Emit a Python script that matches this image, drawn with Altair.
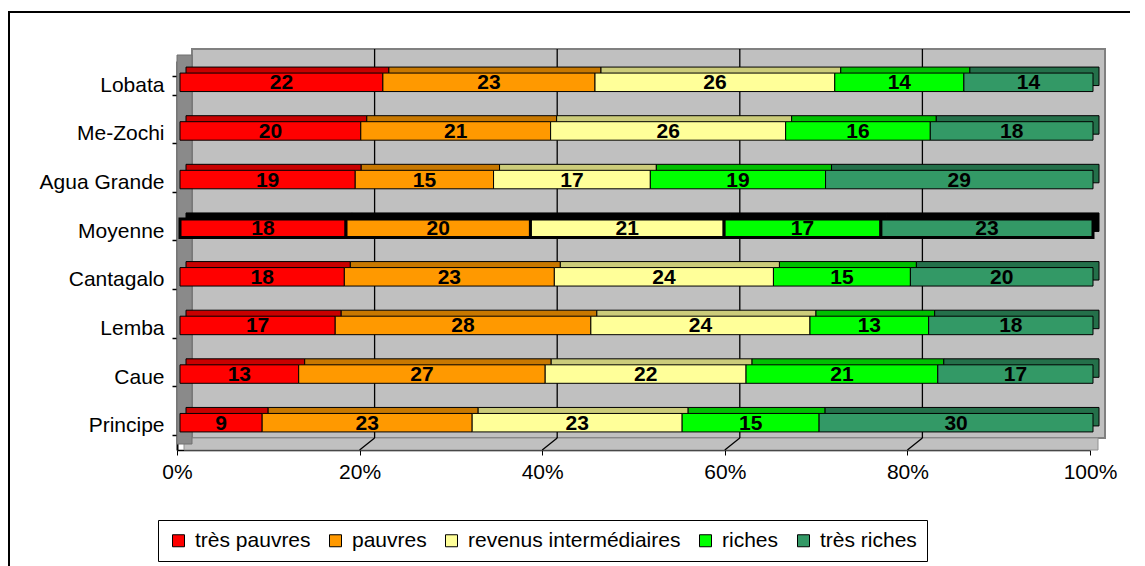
import altair as alt
import pandas as pd

# ---------------- data ----------------
CATS = ["Lobata", "Me-Zochi", "Agua Grande", "Moyenne", "Cantagalo", "Lemba", "Caue", "Principe"]
SERIES = ["très pauvres", "pauvres", "revenus intermédiaires", "riches", "très riches"]
TRES_PAUVRES = [22, 20, 19, 18, 18, 17, 13, 9]
PAUVRES = [23, 21, 15, 20, 23, 28, 27, 23]
INTERMEDIAIRES = [26, 26, 17, 21, 24, 24, 22, 23]
RICHES = [14, 16, 19, 17, 15, 13, 21, 15]
TRES_RICHES = [14, 18, 29, 23, 20, 18, 17, 30]
X_TICKS = [0, 0.2, 0.4, 0.6, 0.8, 1.0]
GRID_TICKS = [0.2, 0.4, 0.6, 0.8]

# ---------------- style ----------------
FONT = "Liberation Sans"
FRONT_COLORS = ["#ff0000", "#ff9900", "#ffff99", "#00ff00", "#339966"]
TOP_COLORS = ["#c80000", "#c87800", "#cccc7a", "#00c000", "#24704a"]
W, H = 913, 389
DX, DY = 15, -12  # depth of the 3D wall
BX, BY = 3, -3    # bar shift inside the depth

rows = []
for vals, name, k in zip([TRES_PAUVRES, PAUVRES, INTERMEDIAIRES, RICHES, TRES_RICHES], SERIES, range(5)):
    for cat, v in zip(CATS, vals):
        rows.append({"cat": cat, "series": name, "k": k, "v": v})
df = pd.DataFrame(rows)

xscale = alt.Scale(domain=[0, 1], nice=False, zero=True)
xaxis = alt.Axis(values=X_TICKS, format=".0%", title=None, grid=False,
                 domainColor="black", domainWidth=1.5, tickColor="black", tickSize=5,
                 labelFontSize=21, labelFont=FONT, labelColor="black", labelPadding=6,
                 labelFlush=False)
yscale = alt.Scale(domain=CATS, paddingInner=0.62, paddingOuter=0.31)
yaxis = alt.Axis(title=None, domainColor="black", domainWidth=2, tickColor="black",
                 tickSize=5, tickWidth=1.5, tickBand="extent", labelFontSize=21,
                 labelFont=FONT, labelColor="black", labelPadding=8)

base = alt.Chart(df).transform_stack(
    stack="v", groupby=["cat"], offset="normalize",
    sort=[alt.SortField("k", order="ascending")], as_=["x0", "x1"]
)

one = alt.Data(values=[{"d": 1}])

border = alt.Chart(one).mark_rect(fillOpacity=0, stroke="black", strokeWidth=2).encode(
    x=alt.value(-168), x2=alt.value(3000), y=alt.value(-49), y2=alt.value(3000))

wall = alt.Chart(one).mark_rect(fill="#c0c0c0", stroke="#808080", strokeWidth=2).encode(
    x=alt.value(DX), x2=alt.value(W + DX), y=alt.value(DY), y2=alt.value(H + DY))

floor = alt.Chart(one).mark_rect(fill="#c0c0c0", stroke="#909090", strokeWidth=1).encode(
    x=alt.value(7), x2=alt.value(W + 8), y=alt.value(H + DY), y2=alt.value(H))

side = alt.Chart(one).mark_rect(fill="#8a8a8a", stroke="#707070", strokeWidth=1).encode(
    x=alt.value(0), x2=alt.value(DX), y=alt.value(DY / 2), y2=alt.value(H + DY / 2))

grid_df = alt.Data(values=[{"t": t} for t in GRID_TICKS])
grid = alt.Chart(grid_df).mark_rule(color="black", strokeWidth=1.3, xOffset=DX).encode(
    x=alt.X("t:Q", scale=xscale, axis=xaxis), y=alt.value(DY), y2=alt.value(H + DY))
diag = alt.Chart(grid_df).mark_rule(color="black", strokeWidth=1.3, x2Offset=DX).encode(
    x=alt.X("t:Q", scale=xscale, axis=xaxis), x2="t:Q", y=alt.value(H), y2=alt.value(H + DY))

is_moy = alt.datum.cat == "Moyenne"

shadow = base.mark_bar(stroke="black", strokeWidth=1,
                       xOffset=BX + 6, x2Offset=BX + 6, yOffset=BY - 6, y2Offset=BY - 6).encode(
    x=alt.X("x0:Q", scale=xscale, axis=xaxis),
    x2="x1:Q",
    y=alt.Y("cat:N", scale=yscale, axis=yaxis, sort=CATS),
    color=alt.condition(is_moy, alt.value("black"),
                        alt.Color("series:N", scale=alt.Scale(domain=SERIES, range=TOP_COLORS), legend=None)),
)

front = base.mark_bar(stroke="black", xOffset=BX, x2Offset=BX, yOffset=BY, y2Offset=BY).encode(
    x=alt.X("x0:Q", scale=xscale, axis=xaxis),
    x2="x1:Q",
    y=alt.Y("cat:N", scale=yscale, axis=yaxis, sort=CATS),
    color=alt.Color("series:N", scale=alt.Scale(domain=SERIES, range=FRONT_COLORS),
                    legend=alt.Legend(title=None, orient="none", legendX=-19, legendY=459,
                                      direction="horizontal", symbolType="square", symbolSize=144,
                                      symbolStrokeColor="black", symbolStrokeWidth=1,
                                      labelFontSize=21, labelFont=FONT, labelColor="black",
                                      labelLimit=400, labelOffset=6, columnPadding=14,
                                      padding=10, strokeColor="black")),
    strokeWidth=alt.condition(is_moy, alt.value(3), alt.value(1)),
)

labels = base.transform_calculate(mid="(datum.x0 + datum.x1) / 2").mark_text(
    font=FONT, fontSize=21, fontWeight="bold", color="black", baseline="middle",
    xOffset=BX, yOffset=BY + 1).encode(
    x=alt.X("mid:Q", scale=xscale, axis=xaxis),
    y=alt.Y("cat:N", scale=yscale, axis=yaxis, sort=CATS),
    text=alt.Text("v:Q"),
)

chart = alt.layer(border, wall, floor, side, grid, diag, shadow, front, labels).resolve_scale(
    color="independent"
).properties(
    width=W, height=H,
    autosize=alt.AutoSizeParams(type="none"),
    padding={"left": 169, "top": 53, "right": 40, "bottom": 120},
).configure_view(strokeWidth=0)

chart.save("out.html", embed_options={"renderer": "svg", "actions": False})
